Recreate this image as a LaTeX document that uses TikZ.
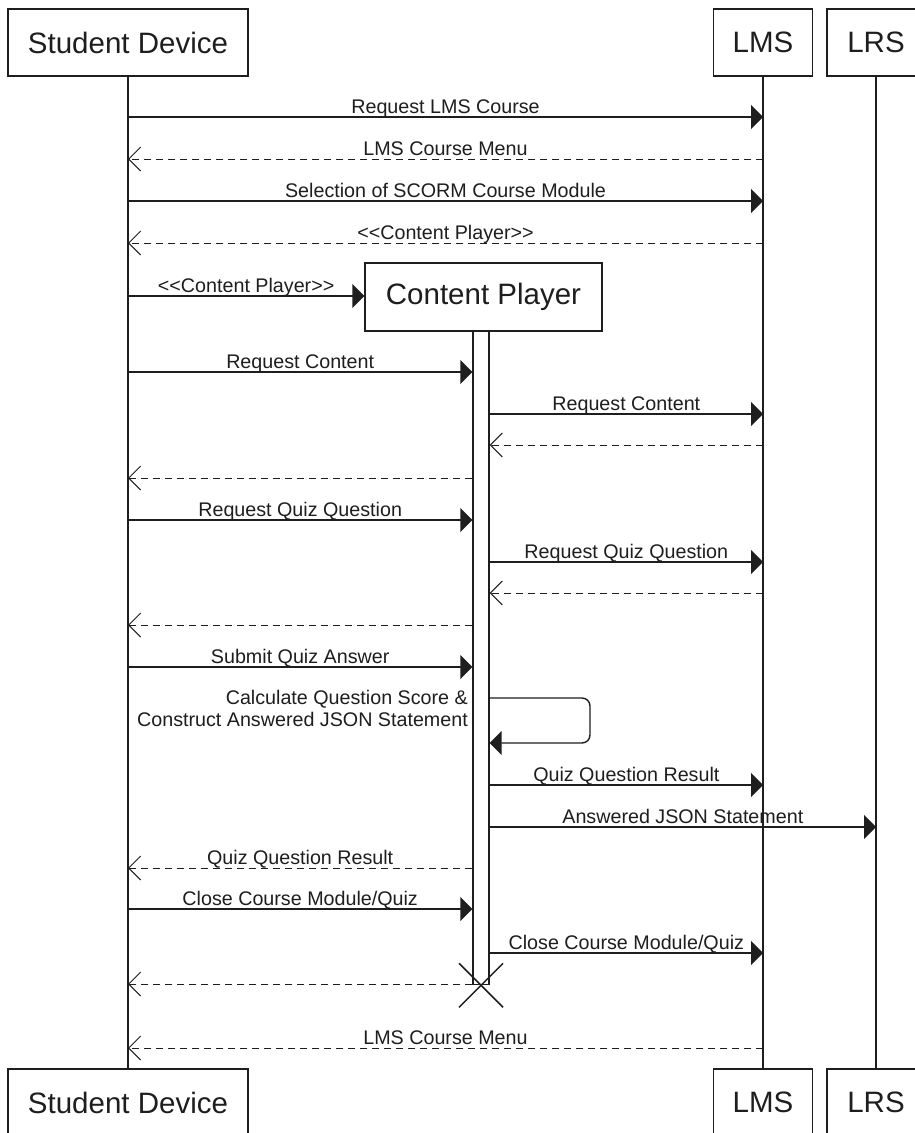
\documentclass[tikz,border=0pt]{standalone}
\usepackage{fontspec}
\setmainfont{Liberation Sans}
\usetikzlibrary{arrows.meta}
\definecolor{ink}{HTML}{1E1E1E}
\newcommand{\openst}{<\kern0pt<}
\newcommand{\closest}{>\kern0pt>}
\begin{document}
\begin{tikzpicture}[x=1pt,y=-1pt,
  actor/.style={draw=ink, line width=1.4pt, fill=white, minimum height=67pt,
    inner sep=0pt, font=\fontsize{29.5}{32}\selectfont, text=ink},
  life/.style={draw=ink, line width=1.3pt},
  bar/.style={draw=ink, line width=1.3pt, fill=white, inner sep=0pt},
  call/.style={draw=ink, line width=1.4pt, -{Triangle[length=12pt,width=24pt]}},
  reply/.style={draw=ink, line width=1pt, dash pattern=on 7pt off 5pt,
    -{Straight Barb[length=12pt,width=24pt,line width=1pt]}},
  lbl/.style={font=\fontsize{19.7}{22}\selectfont, text=ink, anchor=base,
    inner sep=0pt, yshift=4pt},
]
\useasboundingbox (0,0) rectangle (915,1133);
\clip (0,0) rectangle (915,1133);
\fill[white] (0,0) rectangle (915,1133);

% participants, top and bottom
\node[actor, minimum width=240pt] (sdTop) at (128,42.5) {Student Device};
\node[actor, minimum width=99pt] (lmsTop) at (763,42.5) {LMS};
\node[actor, minimum width=98pt] (lrsTop) at (876,42.5) {LRS};
\node[actor, minimum width=240pt] (sdBot) at (128,1102.5) {Student Device};
\node[actor, minimum width=99pt] (lmsBot) at (763,1102.5) {LMS};
\node[actor, minimum width=98pt] (lrsBot) at (876,1102.5) {LRS};

% lifelines
\draw[life] (sdTop.south) -- (sdBot.north);
\draw[life] (lmsTop.south) -- (lmsBot.north);
\draw[life] (lrsTop.south) -- (lrsBot.north);

% created participant and its activation
\node[actor, minimum width=237pt, minimum height=68pt] (cp) at (483.5,297) {Content Player};
\node[bar, minimum width=16pt, minimum height=653pt, anchor=north] (act) at (481,331) {};

% message rows
\coordinate (m1) at (0,117);
\coordinate (m2) at (0,159);
\coordinate (m3) at (0,201);
\coordinate (m4) at (0,243);
\coordinate (m5) at (0,296);
\coordinate (m6) at (0,372);
\coordinate (m7) at (0,414);
\coordinate (m8) at (0,445);
\coordinate (m9) at (0,478);
\coordinate (m10) at (0,520);
\coordinate (m11) at (0,562);
\coordinate (m12) at (0,593);
\coordinate (m13) at (0,625);
\coordinate (m14) at (0,667);
\coordinate (s1) at (0,698);
\coordinate (s2) at (0,743);
\coordinate (loop) at (590,0);
\coordinate (m15) at (0,785);
\coordinate (m16) at (0,827);
\coordinate (m17) at (0,868);
\coordinate (m18) at (0,909);
\coordinate (m19) at (0,953);
\coordinate (m20) at (0,984);
\coordinate (m21) at (0,1048);

% messages
\draw[call] (sdTop |- m1) -- node[lbl] {Request LMS Course} (lmsTop |- m1);
\draw[reply] (lmsTop |- m2) -- node[lbl] {LMS Course Menu} (sdTop |- m2);
\draw[call] (sdTop |- m3) -- node[lbl] {Selection of SCORM Course Module} (lmsTop |- m3);
\draw[reply] (lmsTop |- m4) -- node[lbl] {\openst Content Player\closest} (sdTop |- m4);
\draw[call] (sdTop |- m5) -- node[lbl] {\openst Content Player\closest} (cp.west |- m5);
\draw[call] (sdTop |- m6) -- node[lbl] {Request Content} (act.west |- m6);
\draw[call] (act.east |- m7) -- node[lbl] {Request Content} (lmsTop |- m7);
\draw[reply] (lmsTop |- m8) -- (act.east |- m8);
\draw[reply] (act.west |- m9) -- (sdTop |- m9);
\draw[call] (sdTop |- m10) -- node[lbl] {Request Quiz Question} (act.west |- m10);
\draw[call] (act.east |- m11) -- node[lbl] {Request Quiz Question} (lmsTop |- m11);
\draw[reply] (lmsTop |- m12) -- (act.east |- m12);
\draw[reply] (act.west |- m13) -- (sdTop |- m13);
\draw[call] (sdTop |- m14) -- node[lbl] {Submit Quiz Answer} (act.west |- m14);

% self call
\draw[call, rounded corners=8pt] (act.east |- s1) -- (loop |- s1) -- (loop |- s2) -- (act.east |- s2);
\node[font=\fontsize{19.7}{22}\selectfont, text=ink, inner sep=0pt, align=right,
  anchor=north east] (selfLbl) at (468,690.5)
  {Calculate Question Score \&\\Construct Answered JSON Statement};

\draw[call] (act.east |- m15) -- node[lbl] {Quiz Question Result} (lmsTop |- m15);
\draw[call] (act.east |- m16) -- node[lbl] {Answered JSON Statement} (lrsTop |- m16);
\draw[reply] (act.west |- m17) -- node[lbl] {Quiz Question Result} (sdTop |- m17);
\draw[call] (sdTop |- m18) -- node[lbl] {Close Course Module/Quiz} (act.west |- m18);
\draw[call] (act.east |- m19) -- node[lbl] {Close Course Module/Quiz} (lmsTop |- m19);
\draw[reply] (act.west |- m20) -- (sdTop |- m20);
\draw[reply] (lmsTop |- m21) -- node[lbl] {LMS Course Menu} (sdTop |- m21);

% destruction of the content player
\draw[ink, line width=1.5pt] (act.south) ++(-22,-22) -- ++(44,44);
\draw[ink, line width=1.5pt] (act.south) ++(22,-22) -- ++(-44,44);
\end{tikzpicture}
\end{document}
